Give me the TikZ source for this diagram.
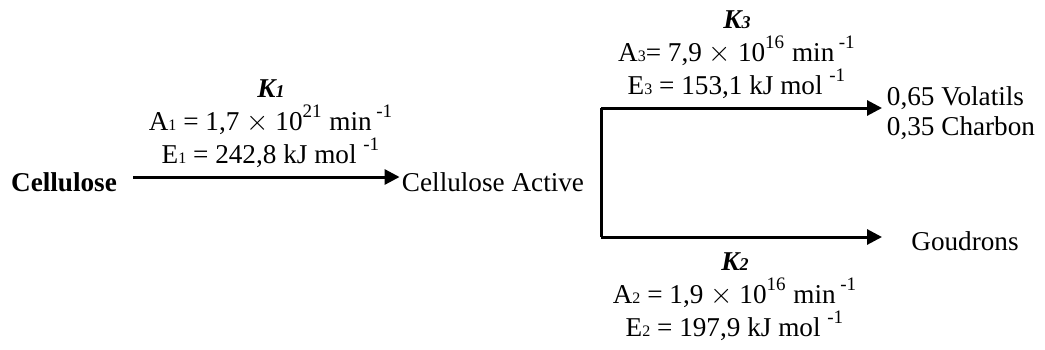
\documentclass[tikz,border=0pt]{standalone}
\usepackage{fontspec}
\setmainfont{Liberation Serif}
\usepackage{tikz}
\usetikzlibrary{arrows.meta, positioning}

\newcommand{\kname}[1]{{\bfseries\itshape K{\small #1}}}
\newcommand{\sub}[1]{{\footnotesize #1}}
\newcommand{\up}[1]{\raisebox{1.5pt}{\textsuperscript{#1}}}

\begin{document}
\begin{tikzpicture}[x=0.5pt, y=-0.5pt,
    species/.style={inner sep=1pt, font=\fontsize{13.6}{16}\selectfont},
    rate/.style={align=center, inner sep=0pt, font=\fontsize{13.6}{16.5}\selectfont},
    arrow/.style={line width=1.5pt, -{Triangle[length=7.5pt, width=7.5pt]}},
    branch/.style={line width=1.5pt}]
    \useasboundingbox (0,0) rectangle (1045,349);

    % Nodes
    \node[species, font=\fontsize{13.6}{16}\selectfont\bfseries] (cell) at (64,182) {Cellulose};
    \node[species] (active) at (493,182) {Cellulose Active};
    \node[species, align=left] (products) at (961,113) {0,65 Volatils\\[-1pt]0,35 Charbon};
    \node[species] (goudrons) at (965,241) {Goudrons};
    \coordinate (top) at (601,108);
    \coordinate (bot) at (601,237);
    \coordinate (voltip) at (882,108);
    \coordinate (goutip) at (882,237);

    % Rate constants
    \node[rate] (k1) at (271,124) {\kname{1}\\
        A\sub{1} = 1,7 $\times$ 10\up{21} min\,\up{-1}\\
        E\sub{1} = 242,8 kJ mol \up{-1}};
    \node[rate] (k3) at (737,55) {\kname{3}\\
        A\sub{3}= 7,9 $\times$ 10\up{16} min\,\up{-1}\\
        E\sub{3} = 153,1 kJ mol \up{-1}};
    \node[rate] (k2) at (735,297) {\kname{2}\\
        A\sub{2} = 1,9 $\times$ 10\up{16} min\,\up{-1}\\
        E\sub{2} = 197,9 kJ mol \up{-1}};

    % Arrows
    \draw[arrow, shorten <=7pt] ([yshift=2.5pt]cell.east) -- ([yshift=2.5pt]active.west);
    \draw[branch] (top) -- (bot);
    \draw[arrow] (top) -- (voltip);
    \draw[arrow] (bot) -- (goutip);

\end{tikzpicture}
\end{document}
